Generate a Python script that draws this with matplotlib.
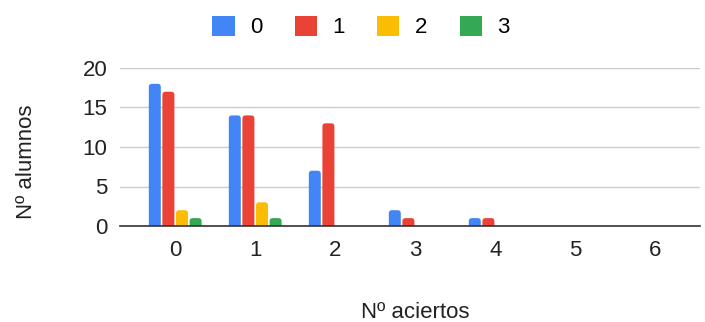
import matplotlib
matplotlib.use('Agg')
import matplotlib.pyplot as plt
from matplotlib.patches import FancyBboxPatch, Patch
import numpy as np

aciertos = ['0', '1', '2', '3', '4', '5', '6']
series_names = ['0', '1', '2', '3']
serie_0 = [18, 14, 7, 2, 1, 0, 0]
serie_1 = [17, 14, 13, 1, 1, 0, 0]
serie_2 = [2, 3, 0, 0, 0, 0, 0]
serie_3 = [1, 1, 0, 0, 0, 0, 0]
yticks = [0, 5, 10, 15, 20]

colors = ['#4285f4', '#ea4335', '#fbbc04', '#34a853']

plt.rcParams['font.family'] = ['Liberation Sans', 'DejaVu Sans']

fig = plt.figure(figsize=(7.05, 3.22), dpi=100)
ax = fig.add_axes([120 / 705, 1 - 226 / 322, 580 / 705, (226 - 68) / 322])

x = np.arange(len(aciertos))
width = 0.15
step = 0.17
radius = 0.04   # in x units
aspect = 10     # y units per x unit for the rounding
for i, vals in enumerate([serie_0, serie_1, serie_2, serie_3]):
    for xi, v in zip(x, vals):
        x0 = xi + (i - 1.5) * step - width / 2
        p = FancyBboxPatch((x0, -radius * aspect), width, v + radius * aspect,
                           boxstyle='round,pad=0,rounding_size=%g' % radius,
                           mutation_aspect=aspect, facecolor=colors[i],
                           edgecolor='none', zorder=3)
        ax.add_patch(p)

ax.set_xlim(-0.69, 6.56)
ax.set_ylim(0, 20)
ax.set_yticks(yticks)
ax.set_xticks(x)
ax.set_xticklabels(aciertos)
ax.tick_params(axis='both', length=0, labelsize=16, colors='#222222')
ax.tick_params(axis='x', pad=10)
ax.tick_params(axis='y', pad=9)
ax.grid(axis='y', color='#cccccc', linewidth=1, zorder=0)
for s in ['top', 'right', 'left']:
    ax.spines[s].set_visible(False)
ax.spines['bottom'].set_color('#333333')
ax.spines['bottom'].set_linewidth(1.2)
ax.spines['bottom'].set_zorder(4)

fig.text(27 / 705, 1 - 162 / 322, 'Nº alumnos', rotation=90, ha='center', va='center',
         fontsize=16, color='#222222')
fig.text(415 / 705, 1 - 312 / 322, 'Nº aciertos', ha='center', va='center',
         fontsize=16, color='#222222')

handles = [Patch(facecolor=c, edgecolor='none', label=n) for c, n in zip(colors, series_names)]
fig.legend(handles=handles, loc='center', bbox_to_anchor=(361 / 705, 1 - 27 / 322), ncol=4,
           frameon=False, fontsize=16, handlelength=1.0, handleheight=1.0,
           columnspacing=1.45, handletextpad=0.7)

plt.savefig('out.png', dpi=100)
